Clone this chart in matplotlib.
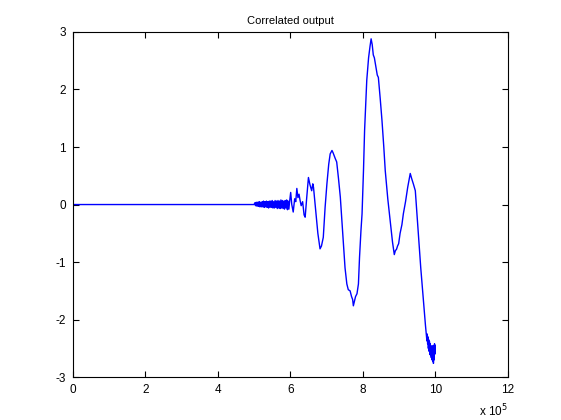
import matplotlib
matplotlib.use('Agg')
import matplotlib.pyplot as plt
import numpy as np

# Values (x in units of 1e5)
# flat part
x_flat = [0, 5.0]
y_flat = [0, 0]

# thin noisy band between 5e5 and 6e5
x_band = [5.02, 5.04, 5.06, 5.08, 5.10, 5.12, 5.14, 5.16, 5.18, 5.20,
          5.22, 5.24, 5.26, 5.28, 5.30, 5.32, 5.34, 5.36, 5.38, 5.40,
          5.42, 5.44, 5.46, 5.48, 5.50, 5.52, 5.54, 5.56, 5.58, 5.60,
          5.62, 5.64, 5.66, 5.68, 5.70, 5.72, 5.74, 5.76, 5.78, 5.80,
          5.82, 5.84, 5.86, 5.88, 5.90, 5.92, 5.94, 5.96, 5.98]
y_band = [0.03, -0.02, 0.04, -0.03, 0.04, -0.03, 0.05, -0.04, 0.04, -0.04,
          0.05, -0.04, 0.06, -0.05, 0.05, -0.04, 0.06, -0.05, 0.05, -0.06,
          0.06, -0.05, 0.06, -0.05, 0.07, -0.06, 0.05, -0.06, 0.07, -0.05,
          0.06, -0.07, 0.07, -0.06, 0.06, -0.07, 0.08, -0.06, 0.07, -0.07,
          0.06, -0.08, 0.07, -0.06, 0.08, -0.09, 0.06, -0.08, 0.05]

# main oscillations
x_main = [6.01, 6.04, 6.08, 6.12, 6.15, 6.18, 6.21, 6.24, 6.27, 6.30, 6.34, 6.38, 6.41,
          6.45, 6.50, 6.54, 6.59, 6.62, 6.64, 6.67, 6.71, 6.76, 6.82, 6.86, 6.91, 6.96,
          7.01, 7.06, 7.10, 7.15, 7.18, 7.21, 7.24, 7.28, 7.33, 7.38, 7.43, 7.47, 7.51,
          7.56, 7.60, 7.65, 7.69, 7.72, 7.74, 7.77, 7.80, 7.84, 7.88, 7.91, 7.95, 7.98,
          8.02, 8.05, 8.11, 8.16, 8.20, 8.23, 8.26, 8.29, 8.32, 8.36, 8.40, 8.43, 8.48,
          8.53, 8.58, 8.62, 8.69, 8.76, 8.82, 8.87, 8.90, 8.93, 8.96, 8.99, 9.03, 9.08,
          9.12, 9.18, 9.24, 9.31, 9.35, 9.40, 9.45, 9.50, 9.54, 9.60, 9.68, 9.73, 9.77]
y_main = [0.21, 0.0, -0.13, 0.1, 0.05, 0.28, 0.12, 0.18, 0.07, -0.02, 0.05, -0.18, -0.22,
          0.1, 0.47, 0.35, 0.24, 0.36, 0.3, 0.1, -0.16, -0.5, -0.77, -0.72, -0.57, -0.05,
          0.36, 0.7, 0.88, 0.94, 0.9, 0.85, 0.8, 0.74, 0.45, 0.13, -0.35, -0.74, -1.1,
          -1.38, -1.48, -1.5, -1.6, -1.65, -1.76, -1.68, -1.6, -1.55, -1.38, -0.92, -0.45, -0.16,
          0.6, 1.29, 2.16, 2.55, 2.75, 2.88, 2.78, 2.6, 2.55, 2.4, 2.25, 2.21, 1.85,
          1.46, 1.0, 0.59, 0.1, -0.3, -0.65, -0.87, -0.8, -0.78, -0.72, -0.68, -0.5, -0.35,
          -0.16, 0.05, 0.3, 0.54, 0.45, 0.35, 0.24, -0.2, -0.57, -1.1, -1.72, -2.1, -2.37]

# noisy tail just before 1e6
x_tail = [9.78, 9.79, 9.80, 9.81, 9.82, 9.83, 9.84, 9.85, 9.86, 9.87, 9.88, 9.89, 9.90,
          9.91, 9.92, 9.93, 9.94, 9.95, 9.96, 9.97, 9.98, 9.99, 10.0]
y_tail = [-2.25, -2.42, -2.3, -2.5, -2.35, -2.55, -2.38, -2.6, -2.42, -2.62, -2.45, -2.66, -2.48,
          -2.7, -2.5, -2.72, -2.45, -2.76, -2.5, -2.7, -2.42, -2.6, -2.45]

x_ticks = [0, 2, 4, 6, 8, 10, 12]
y_ticks = [-3, -2, -1, 0, 1, 2, 3]

x_all = np.array(x_flat + x_band + x_main + x_tail) * 1e5
y_all = np.array(y_flat + y_band + y_main + y_tail)

plt.rcParams['font.family'] = ['Liberation Sans', 'DejaVu Sans']

fig = plt.figure(figsize=(5.61, 4.2), dpi=100)
ax = fig.add_axes([0.13, 0.102, 0.775, 0.822])
ax.plot(x_all, y_all, color=(0, 0, 1), linewidth=1.0)

ax.set_xlim(0, 12e5)
ax.set_ylim(-3, 3)
ax.set_xticks([v * 1e5 for v in x_ticks])
ax.set_xticklabels([str(v) for v in x_ticks])
ax.set_yticks(y_ticks)
ax.set_yticklabels([str(v) for v in y_ticks])
ax.tick_params(direction='in', top=True, right=True, length=4, width=0.8, labelsize=8.5, pad=5)
for s in ax.spines.values():
    s.set_linewidth(0.8)

ax.set_title('Correlated output', fontsize=8, pad=6)
ax.text(1.0, -0.075, 'x 10$^5$', transform=ax.transAxes, ha='right', va='top', fontsize=8.5)

fig.savefig('out.png', dpi=100)
